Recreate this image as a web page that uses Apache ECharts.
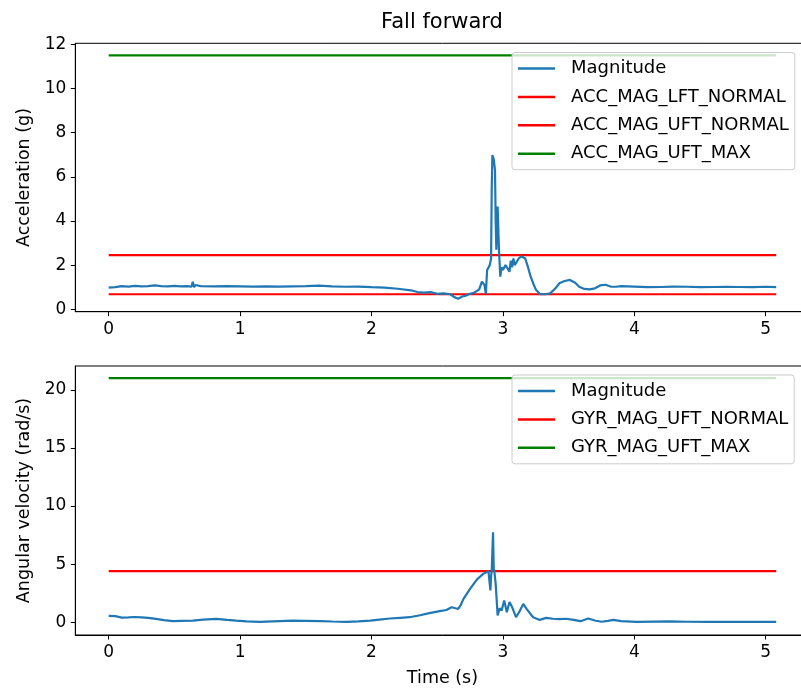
<!DOCTYPE html>
<html><head><meta charset="utf-8">
<script src="https://cdn.jsdelivr.net/npm/echarts@6/dist/echarts.min.js"></script>
<style>html,body{margin:0;padding:0;overflow:hidden;background:#fff}#c{width:811px;height:696px}</style>
</head><body><div id="c"></div>
<script>
const accTime = [0.00,0.05,0.10,0.15,0.20,0.25,0.30,0.35,0.40,0.45,0.50,0.55,0.60,0.63,0.64,0.65,0.66,0.70,0.80,0.90,1.00,1.10,1.20,1.30,1.40,1.50,1.60,1.70,1.80,1.90,2.00,2.10,2.20,2.30,2.35,2.40,2.45,2.50,2.55,2.60,2.63,2.66,2.69,2.72,2.75,2.78,2.80,2.82,2.84,2.86,2.87,2.88,2.90,2.91,2.915,2.92,2.93,2.94,2.945,2.95,2.96,2.97,2.98,2.99,3.00,3.02,3.03,3.04,3.05,3.06,3.07,3.08,3.09,3.10,3.12,3.14,3.155,3.17,3.19,3.21,3.23,3.25,3.28,3.32,3.36,3.40,3.43,3.47,3.51,3.55,3.58,3.62,3.66,3.70,3.74,3.78,3.82,3.86,3.90,4.00,4.10,4.20,4.30,4.40,4.50,4.60,4.70,4.80,4.90,5.00,5.08];
const accMag = [0.98,1.00,1.05,1.03,1.06,1.04,1.05,1.08,1.05,1.04,1.06,1.04,1.05,1.02,1.25,1.00,1.10,1.05,1.04,1.05,1.04,1.03,1.04,1.03,1.04,1.05,1.07,1.04,1.02,1.03,1.00,0.98,0.93,0.86,0.78,0.75,0.78,0.70,0.72,0.68,0.55,0.48,0.58,0.62,0.70,0.75,0.82,0.90,1.25,1.10,0.70,1.78,2.00,2.30,5.50,6.99,6.80,6.30,4.00,2.70,4.65,2.70,1.48,1.90,1.78,2.00,2.08,1.80,1.70,2.20,1.90,2.30,2.00,2.08,2.30,2.40,2.46,2.30,1.93,1.50,1.18,0.90,0.69,0.68,0.72,0.95,1.18,1.28,1.33,1.20,1.02,0.92,0.90,0.95,1.08,1.11,1.03,1.02,1.05,1.03,1.00,1.01,1.03,1.02,1.00,1.01,1.02,1.01,1.00,1.02,1.00];
const gyrTime = [0.00,0.05,0.10,0.15,0.20,0.25,0.30,0.36,0.42,0.49,0.55,0.64,0.72,0.82,0.90,0.97,1.05,1.15,1.25,1.40,1.50,1.61,1.70,1.81,1.90,1.99,2.06,2.14,2.22,2.29,2.37,2.44,2.52,2.57,2.61,2.64,2.66,2.68,2.70,2.75,2.80,2.85,2.89,2.90,2.905,2.91,2.915,2.925,2.93,2.935,2.945,2.96,2.975,2.99,3.01,3.03,3.05,3.07,3.08,3.10,3.13,3.155,3.18,3.23,3.28,3.33,3.38,3.43,3.48,3.54,3.59,3.65,3.70,3.75,3.80,3.84,3.90,4.02,4.15,4.27,4.40,4.55,4.70,4.85,5.00,5.08];
const gyrMag = [0.55,0.52,0.40,0.42,0.45,0.42,0.38,0.29,0.18,0.09,0.12,0.14,0.22,0.29,0.20,0.14,0.08,0.03,0.08,0.14,0.12,0.09,0.06,0.03,0.08,0.14,0.23,0.32,0.38,0.43,0.60,0.78,0.95,1.05,1.29,1.20,1.15,1.50,2.01,2.87,3.65,4.16,4.39,4.30,2.73,4.00,4.40,7.75,4.60,4.40,3.30,0.58,1.20,1.00,1.87,0.86,1.73,1.30,1.44,0.43,1.00,1.58,1.15,0.43,0.20,0.37,0.30,0.26,0.30,0.20,0.09,0.32,0.15,0.04,0.12,0.20,0.10,0.03,0.05,0.07,0.04,0.03,0.04,0.03,0.03,0.03];
const thrTime = [0, 5.08];
const ACC_MAG_LFT_NORMAL = 0.68;
const ACC_MAG_UFT_NORMAL = 2.45;
const ACC_MAG_UFT_MAX = 11.5;
const GYR_MAG_UFT_NORMAL = 4.4;
const GYR_MAG_UFT_MAX = 21;
const xTicks = [0,1,2,3,4,5];
const accTicks = [0,2,4,6,8,10,12];
const gyrTicks = [0,5,10,15,20];

const FONT = 'DejaVu Sans';
const BLUE = '#1f77b4', RED = '#ff0000', GREEN = '#008000';
const zip = (a,b) => a.map((v,i)=>[v,b[i]]);
const hline = (v) => thrTime.map(t=>[t,v]);

function xAxis(gi, showName){
  return {type:'value', gridIndex:gi, min:-0.254, max:5.334,
    axisLine:{show:true,onZero:false,lineStyle:{color:'#000',width:1}},
    axisTick:{show:true,inside:false,length:4.5,lineStyle:{color:'#000'},customValues:xTicks},
    axisLabel:{customValues:xTicks,color:'#000',fontFamily:FONT,fontSize:17,margin:9},
    splitLine:{show:false},
    name: showName ? 'Time (s)' : '', nameLocation:'middle', nameGap:34,
    nameTextStyle:{color:'#000',fontFamily:FONT,fontSize:17.5}};
}
function yAxis(gi, min, max, ticks, name){
  return {type:'value', gridIndex:gi, min:min, max:max,
    axisLine:{show:true,onZero:false,lineStyle:{color:'#000',width:1}},
    axisTick:{show:true,inside:false,length:4.5,lineStyle:{color:'#000'},customValues:ticks},
    axisLabel:{customValues:ticks,color:'#000',fontFamily:FONT,fontSize:17,margin:9},
    splitLine:{show:false},
    name:name, nameLocation:'middle', nameGap:42,
    nameTextStyle:{color:'#000',fontFamily:FONT,fontSize:17.5}};
}
function lineSeries(name, data, color, xi, z){
  return {name:name, type:'line', xAxisIndex:xi, yAxisIndex:xi, data:data,
    showSymbol:false, symbol:'none', animation:false, z:z||2,
    lineStyle:{color:color,width:2.2}, itemStyle:{color:color}};
}
function legend(data, top){
  return {show:true, orient:'vertical', left:512, top:top, data:data,
    icon:'rect', itemWidth:37, itemHeight:2.5, itemGap:8.4, selectedMode:false,
    padding:[6,6,6,6], backgroundColor:'rgba(255,255,255,0.8)', borderColor:'#cccccc',
    borderWidth:1, borderRadius:3,
    textStyle:{fontFamily:FONT,fontSize:18,color:'#000',lineHeight:20,padding:[0,0,0,11]}};
}

const chart = echarts.init(document.getElementById('c'), null, {renderer:'canvas'});
chart.setOption({
  animation:false,
  backgroundColor:'#fff',
  title:{text:'Fall forward', left:442, top:12, textAlign:'center', padding:0,
    textStyle:{fontFamily:FONT,fontSize:21,fontWeight:'normal',color:'#000'}},
  grid:[
    {left:75.3, top:43.3, width:734.3, height:268.4, show:true, borderColor:'#000', borderWidth:1, containLabel:false},
    {left:75.3, top:366, width:734.3, height:269, show:true, borderColor:'#000', borderWidth:1, containLabel:false}
  ],
  xAxis:[xAxis(0,false), xAxis(1,true)],
  yAxis:[yAxis(0,-0.11,12.05,accTicks,'Acceleration (g)'), yAxis(1,-1.1,22.05,gyrTicks,'Angular velocity (rad/s)')],
  legend:[
    legend(['Magnitude','ACC_MAG_LFT_NORMAL','ACC_MAG_UFT_NORMAL','ACC_MAG_UFT_MAX'], 52.5),
    legend(['Magnitude','GYR_MAG_UFT_NORMAL','GYR_MAG_UFT_MAX'], 375)
  ],
  series:[
    lineSeries('Magnitude', zip(accTime,accMag), BLUE, 0, 3),
    lineSeries('ACC_MAG_LFT_NORMAL', hline(ACC_MAG_LFT_NORMAL), RED, 0),
    lineSeries('ACC_MAG_UFT_NORMAL', hline(ACC_MAG_UFT_NORMAL), RED, 0),
    lineSeries('ACC_MAG_UFT_MAX', hline(ACC_MAG_UFT_MAX), GREEN, 0),
    lineSeries('Magnitude', zip(gyrTime,gyrMag), BLUE, 1, 3),
    lineSeries('GYR_MAG_UFT_NORMAL', hline(GYR_MAG_UFT_NORMAL), RED, 1),
    lineSeries('GYR_MAG_UFT_MAX', hline(GYR_MAG_UFT_MAX), GREEN, 1)
  ]
});
</script></body></html>
